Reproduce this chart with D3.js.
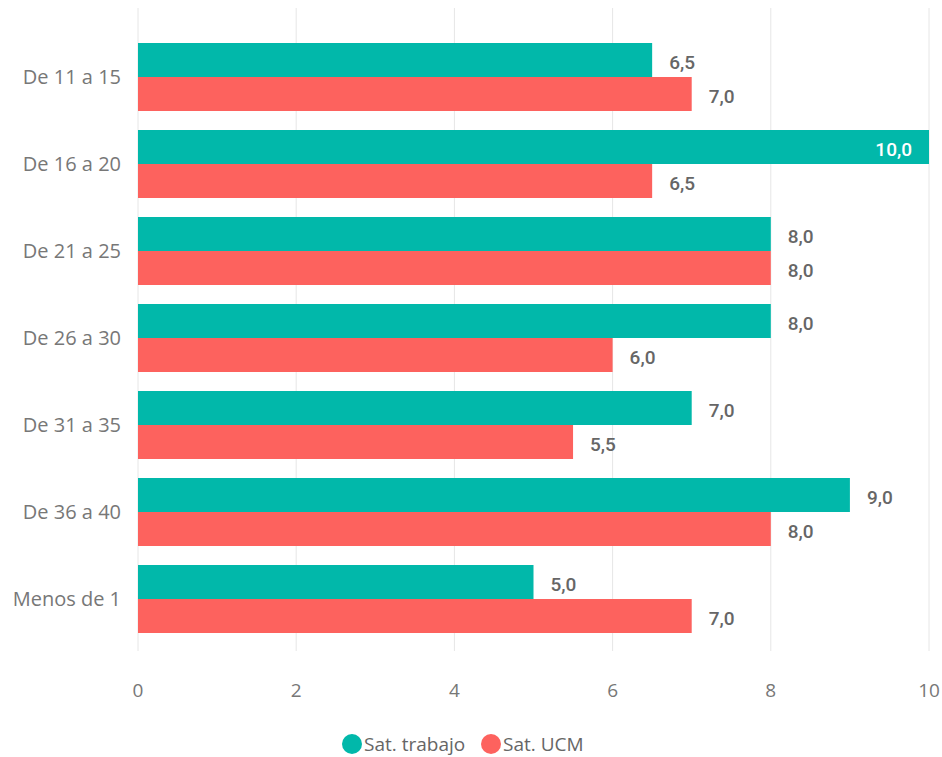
<!DOCTYPE html>
<html>
<head>
<meta charset="utf-8">
<script src="https://d3js.org/d3.v7.min.js"></script>
<style>
  body { margin: 0; background: #fff; }
</style>
</head>
<body>
<script>
var w = 942, h = 757;
var categories = ["De 11 a 15", "De 16 a 20", "De 21 a 25", "De 26 a 30", "De 31 a 35", "De 36 a 40", "Menos de 1"];
var satTrabajo = [6.5, 10.0, 8.0, 8.0, 7.0, 9.0, 5.0];
var satUCM = [7.0, 6.5, 8.0, 6.0, 5.5, 8.0, 7.0];
var seriesNames = ["Sat. trabajo", "Sat. UCM"];
var colors = ["#01B8AA", "#FD625E"];
var xTicks = [0, 2, 4, 6, 8, 10];

var svg = d3.select("body").append("svg").attr("width", w).attr("height", h);

var x = d3.scaleLinear().domain([0, 10]).range([138, 929]);
var y = d3.scaleBand().domain(categories).range([33.5, 642.5])
  .paddingInner(0.2184).paddingOuter(0.1092);
var bw = y.bandwidth() / 2;

// gridlines
svg.selectAll("line.grid").data(xTicks).enter().append("line")
  .attr("x1", function(d) { return x(d); })
  .attr("x2", function(d) { return x(d); })
  .attr("y1", 8).attr("y2", 651)
  .attr("stroke", "#e6e6e6").attr("stroke-width", 1);

// tick labels
svg.selectAll("text.tick").data(xTicks).enter().append("text")
  .text(function(d) { return d; })
  .attr("x", function(d) { return x(d); })
  .attr("y", 697)
  .attr("text-anchor", "middle")
  .attr("font-family", "'Open Sans', sans-serif")
  .attr("font-size", "19px")
  .attr("fill", "#777");

// category labels
svg.selectAll("text.cat").data(categories).enter().append("text")
  .text(function(d) { return d; })
  .attr("x", 121)
  .attr("y", function(d) { return y(d) + y.bandwidth() / 2 + 7; })
  .attr("text-anchor", "end")
  .attr("font-family", "'Open Sans', sans-serif")
  .attr("font-size", "20px")
  .attr("fill", "#777");

var series = [satTrabajo, satUCM];
series.forEach(function(vals, s) {
  svg.selectAll("rect.s" + s).data(vals).enter().append("rect")
    .attr("x", x(0))
    .attr("y", function(d, i) { return y(categories[i]) + s * bw; })
    .attr("width", function(d) { return x(d) - x(0); })
    .attr("height", bw)
    .attr("fill", colors[s]);

  svg.selectAll("text.v" + s).data(vals).enter().append("text")
    .text(function(d) { return d.toFixed(1).replace(".", ","); })
    .attr("x", function(d) { return d >= 10 ? x(d) - 17 : x(d) + 17; })
    .attr("y", function(d, i) { return y(categories[i]) + s * bw + bw / 2 + 9; })
    .attr("text-anchor", function(d) { return d >= 10 ? "end" : "start"; })
    .attr("font-family", "Roboto, sans-serif")
    .attr("font-weight", "500")
    .attr("font-size", "19px")
    .attr("fill", function(d) { return d >= 10 ? "#fff" : "#666"; });
});

// legend
var legX = [352, 491];
seriesNames.forEach(function(name, s) {
  svg.append("circle").attr("cx", legX[s]).attr("cy", 744).attr("r", 10).attr("fill", colors[s]);
  svg.append("text").text(name)
    .attr("x", legX[s] + 12).attr("y", 751)
    .attr("font-family", "'Open Sans', sans-serif")
    .attr("font-size", "19px")
    .attr("fill", "#666");
});
</script>
</body>
</html>
